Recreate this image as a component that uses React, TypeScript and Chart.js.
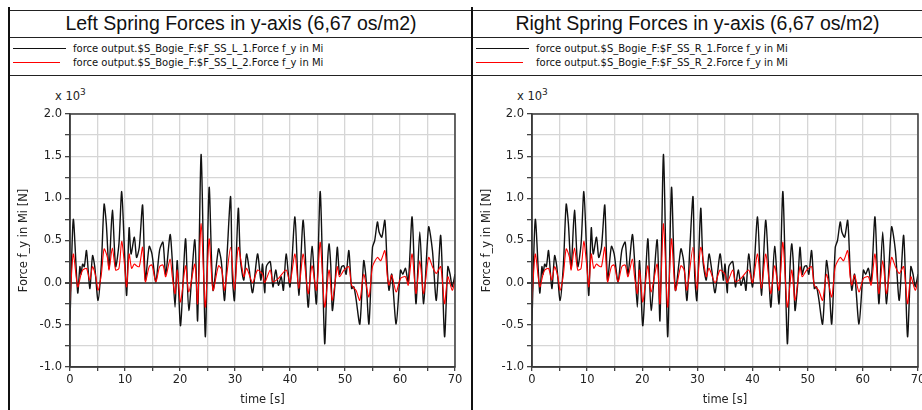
import React, { useEffect, useRef } from 'react';
import { Chart, registerables } from 'chart.js';

Chart.register(...registerables);

// ---- data (values in x10^3 N) ----
const timesBlack = [
  0, 0.6, 1.4, 1.8, 2.0, 2.3, 2.6, 3.0, 3.6, 4.1, 4.5, 5.1, 5.7, 6.2, 6.6, 7.1, 7.7, 8.3, 8.9, 9.4,
  9.9, 10.3, 10.75, 11.1, 11.7, 12.1, 12.6, 13.2, 13.7, 14.4, 14.9, 15.6, 16.3, 16.9, 17.4, 18.2, 18.6, 19.1, 19.5, 20.1,
  21.0, 21.6, 22.7, 23.2, 23.85, 24.6, 25.3, 26.0, 27.0, 27.4, 27.6, 28.1, 28.6, 29.2, 29.5, 29.9, 30.6, 31.0, 31.6, 32.1,
  32.6, 33.2, 34.1, 34.7, 35.0, 35.4, 35.7, 36.4, 36.9, 37.4, 37.9, 38.4, 38.8, 39.3, 40.0, 40.9, 41.6, 42.4, 43.3, 44.0,
  44.8, 45.5, 46.3, 46.8, 47.1, 47.4, 47.7, 48.2, 48.6, 49.0, 49.4, 49.8, 50.2, 50.7, 51.2, 51.6, 52.0, 52.7, 53.4, 53.8,
  54.35, 55.0, 55.4, 55.9, 56.2, 56.7, 57.25, 57.7, 58.0, 58.5, 59.3, 60.1, 60.5, 61.0, 61.5, 62.2, 62.9, 63.6, 64.3, 65.2,
  65.9, 66.6, 67.4, 68.1, 68.7, 69.1, 69.5, 70.0,
];
const valuesBlack = [
  -0.45, 0.75, -0.12, 0.19, 0.10, 0.22, 0.19, 0.38, -0.07, 0.32, 0.19, -0.21, 0.22, 0.93, 0.70, 0.17, 0.86, 0.19, 0.46, 1.08,
  0.38, -0.15, 0.65, 0.34, 0.54, 0.30, 0.42, 0.92, 0.03, 0.43, 0.34, 0.01, 0.39, 0.48, 0.10, 0.57, 0.26, -0.29, 0.26, -0.51,
  0.52, -0.33, 0.51, -0.45, 1.52, -0.64, 1.13, -0.09, 0.40, 0.30, 0.19, -0.21, 0.38, 1.02, 0.10, -0.21, 0.88, 0.26, 0.03, 0.34,
  0.15, -0.12, 0.34, 0.03, 0.22, -0.12, 0.19, 0.25, -0.05, 0.15, -0.03, 0.07, -0.09, 0.34, -0.05, 0.78, -0.15, 0.74, -0.29, 0.43,
  -0.25, 1.08, -0.72, 0.19, 0.46, 0.22, -0.33, 0.0, 0.42, 0.10, 0.19, 0.20, 0.10, 0.38, -0.07, -0.05, -0.19, -0.49, 0.26, 0.07,
  -0.49, 0.42, 0.50, 0.72, 0.60, 0.54, 0.74, 0.15, -0.09, 0.10, -0.49, 0.15, 0.10, 0.17, 0.0, 0.78, -0.25, 0.60, -0.25, 0.66,
  0.38, -0.21, 0.56, -0.64, 0.19, 0.10, -0.05, 0.10,
];
const timesRed = [
  0, 0.6, 1.4, 2.0, 2.3, 3.0, 3.6, 4.1, 4.7, 5.1, 5.7, 6.2, 6.8, 7.1, 7.7, 8.3, 8.9, 9.4, 9.9, 10.3,
  10.75, 11.2, 11.7, 12.1, 12.6, 13.2, 13.7, 14.4, 14.9, 15.6, 16.3, 16.9, 17.4, 18.2, 18.6, 19.1, 19.5, 20.1, 21.0, 21.6,
  22.7, 23.2, 23.85, 24.6, 25.3, 26.0, 27.0, 27.6, 28.1, 29.2, 29.9, 30.6, 31.6, 32.1, 33.2, 34.1, 35.0, 35.4, 36.4, 36.9,
  37.9, 39.3, 40.0, 40.9, 41.6, 42.4, 43.3, 44.0, 44.8, 45.5, 46.3, 47.1, 47.7, 48.6, 49.0, 49.8, 50.7, 51.2, 52.0, 52.7,
  53.4, 54.35, 55.0, 55.9, 56.5, 57.25, 57.7, 58.0, 58.5, 59.3, 60.1, 61.0, 61.5, 62.2, 62.9, 63.6, 64.3, 65.2, 65.9, 66.6,
  67.4, 68.1, 68.7, 69.5, 70.0,
];
const valuesRed = [
  -0.21, 0.34, -0.05, 0.10, 0.15, 0.17, 0.03, 0.19, 0.07, -0.09, 0.10, 0.40, 0.30, 0.15, 0.41, 0.15, 0.17, 0.49, 0.22, -0.05,
  0.34, 0.17, 0.22, 0.20, 0.19, 0.42, 0.01, 0.19, 0.21, 0.01, 0.19, 0.21, 0.07, 0.28, 0.07, -0.13, 0.15, -0.23, 0.20, -0.11,
  0.22, -0.25, 0.70, -0.29, 0.52, -0.09, 0.20, 0.15, -0.09, 0.42, -0.09, 0.42, 0.07, 0.17, 0.0, 0.15, 0.10, 0.0, 0.15, 0.01,
  0.05, 0.15, 0.0, 0.34, -0.07, 0.34, -0.13, 0.20, -0.09, 0.48, -0.29, 0.15, -0.21, 0.19, 0.07, 0.15, 0.19, -0.03, -0.09, -0.21,
  0.10, -0.17, 0.19, 0.30, 0.26, 0.38, 0.07, -0.03, 0.09, -0.11, 0.05, 0.07, -0.03, 0.34, -0.13, 0.26, -0.13, 0.30, 0.19, 0.11,
  0.19, -0.25, 0.07, -0.09, 0.03,
];

const panelTitles = [
  'Left Spring Forces in y-axis (6,67 os/m2)',
  'Right Spring Forces in y-axis (6,67 os/m2)',
];
const legendLeft = [
  'force output.$S_Bogie_F:$F_SS_L_1.Force f_y in Mi',
  'force output.$S_Bogie_F:$F_SS_L_2.Force f_y in Mi',
];
const legendRight = [
  'force output.$S_Bogie_F:$F_SS_R_1.Force f_y in Mi',
  'force output.$S_Bogie_F:$F_SS_R_2.Force f_y in Mi',
];
const seriesColors = ['#111111', '#ff0000'];
const yAxisTitle = 'Force f_y in Mi [N]';
const xAxisTitle = 'time [s]';
const xMin = 0, xMax = 70, xStep = 5, xLabelStep = 10;
const yMin = -1, yMax = 2, yStep = 0.25, yLabelStep = 0.5;

const FONT = 'DejaVu Sans';

const boxPlugin = {
  id: 'plotBox',
  afterDraw(chart: any) {
    const { ctx, chartArea } = chart;
    const { left, top, right, bottom } = chartArea;
    ctx.save();
    ctx.strokeStyle = '#3a3a3a';
    ctx.lineWidth = 1.5;
    ctx.strokeRect(left, top, right - left, bottom - top);
    ctx.restore();
  },
};

function PlotCanvas({ left, yAxisWidth }: { left: number; yAxisWidth: number }) {
  const ref = useRef<HTMLCanvasElement>(null);
  useEffect(() => {
    if (!ref.current) return;
    const chart = new Chart(ref.current, {
      type: 'line',
      data: {
        datasets: [
          {
            data: timesBlack.map((t, i) => ({ x: t, y: valuesBlack[i] })),
            borderColor: seriesColors[0],
            borderWidth: 1.4,
            pointRadius: 0,
            tension: 0.25,
            order: 2,
          },
          {
            data: timesRed.map((t, i) => ({ x: t, y: valuesRed[i] })),
            borderColor: seriesColors[1],
            borderWidth: 1.1,
            pointRadius: 0,
            tension: 0.25,
            order: 1,
          },
        ],
      },
      options: {
        responsive: false,
        animation: false,
        devicePixelRatio: 1,
        layout: { padding: { top: 38, right: 16, left: 0, bottom: 0 } },
        plugins: { legend: { display: false }, tooltip: { enabled: false } },
        scales: {
          x: {
            type: 'linear',
            min: xMin,
            max: xMax,
            afterFit: (s: any) => { s.height = 43; },
            ticks: {
              stepSize: xStep,
              autoSkip: false,
              maxRotation: 0,
              padding: 2,
              color: '#222',
              font: { family: FONT, size: 11.5 },
              callback: (v: any) => (Math.abs(v % xLabelStep) < 1e-6 ? String(v) : ''),
            },
            grid: { color: '#d6d6d6', lineWidth: 1.3, tickLength: 4, tickColor: '#444' },
            border: { color: '#3a3a3a', width: 1.5 },
            title: {
              display: true,
              text: xAxisTitle,
              color: '#222',
              font: { family: FONT, size: 11.5 },
              padding: { top: 0, bottom: 3 },
            },
          },
          y: {
            min: yMin,
            max: yMax,
            afterFit: (s: any) => { s.width = yAxisWidth; },
            ticks: {
              stepSize: yStep,
              autoSkip: false,
              padding: 3,
              color: '#222',
              font: { family: FONT, size: 11.5 },
              callback: (v: any) => {
                const r = v / yLabelStep;
                return Math.abs(r - Math.round(r)) < 1e-6 ? Number(v).toFixed(1) : '';
              },
            },
            grid: {
              color: (c: any) => (c.tick && Math.abs(c.tick.value) < 1e-9 ? '#5a5a5a' : '#d6d6d6'),
              lineWidth: (c: any) => (c.tick && Math.abs(c.tick.value) < 1e-9 ? 2 : 1.3),
              tickLength: 5,
              tickColor: '#444',
            },
            border: { color: '#3a3a3a', width: 1.5 },
            title: {
              display: true,
              text: yAxisTitle,
              color: '#222',
              font: { family: FONT, size: 11.5 },
              padding: { top: 7, bottom: 0 },
            },
          },
        },
      } as any,
      plugins: [boxPlugin],
    });
    return () => chart.destroy();
  }, []);
  return (
    <canvas
      ref={ref}
      width={461}
      height={334}
      style={{ position: 'absolute', left, top: 76, width: 461, height: 334 }}
    />
  );
}

function Panel({ x, width, title, labels, yAxisWidth }: { x: number; width: number; title: string; labels: string[]; yAxisWidth: number }) {
  const plotLeft = x + 1 + yAxisWidth;
  return (
    <>
      <div style={{ position: 'absolute', left: x - 1, top: 7, width: 2, height: 403, background: '#111' }} />
      <div
        style={{
          position: 'absolute', left: x + 1, top: 10, width: width, height: 27, lineHeight: '27px',
          textAlign: 'center', fontFamily: 'Liberation Sans', fontSize: 19.5, color: '#111', whiteSpace: 'nowrap',
        }}
      >
        {title}
      </div>
      <div style={{ position: 'absolute', left: x + 4, top: 48, width: 53, height: 1, background: seriesColors[0] }} />
      <div style={{ position: 'absolute', left: x + 4, top: 62, width: 47, height: 1, background: seriesColors[1] }} />
      {labels.map((l, i) => (
        <div
          key={i}
          style={{
            position: 'absolute', left: x + 64, top: 42 + i * 14, height: 14, lineHeight: '14px',
            fontFamily: FONT, fontSize: 10, color: '#111', whiteSpace: 'nowrap',
          }}
        >
          {l}
        </div>
      ))}
      <div
        style={{
          position: 'absolute', left: plotLeft - 15, top: 88, height: 16, lineHeight: '16px',
          fontFamily: FONT, fontSize: 11.5, color: '#222', whiteSpace: 'nowrap',
        }}
      >
        x 10<sup style={{ fontSize: 9, verticalAlign: 'top', position: 'relative', top: -4 }}>3</sup>
      </div>
      <PlotCanvas left={x + 1} yAxisWidth={yAxisWidth} />
    </>
  );
}

export default function App() {
  return (
    <div style={{ position: 'absolute', left: 0, top: 0, width: 922, height: 410, overflow: 'hidden', background: '#fff' }}>
      <div style={{ position: 'absolute', left: 9, top: 10, width: 913, height: 1, background: '#222' }} />
      <div style={{ position: 'absolute', left: 9, top: 37, width: 913, height: 1, background: '#222' }} />
      <div style={{ position: 'absolute', left: 9, top: 75, width: 913, height: 1, background: '#222' }} />
      <Panel x={9} width={462} title={panelTitles[0]} labels={legendLeft} yAxisWidth={60} />
      <Panel x={472} width={449} title={panelTitles[1]} labels={legendRight} yAxisWidth={59} />
    </div>
  );
}
